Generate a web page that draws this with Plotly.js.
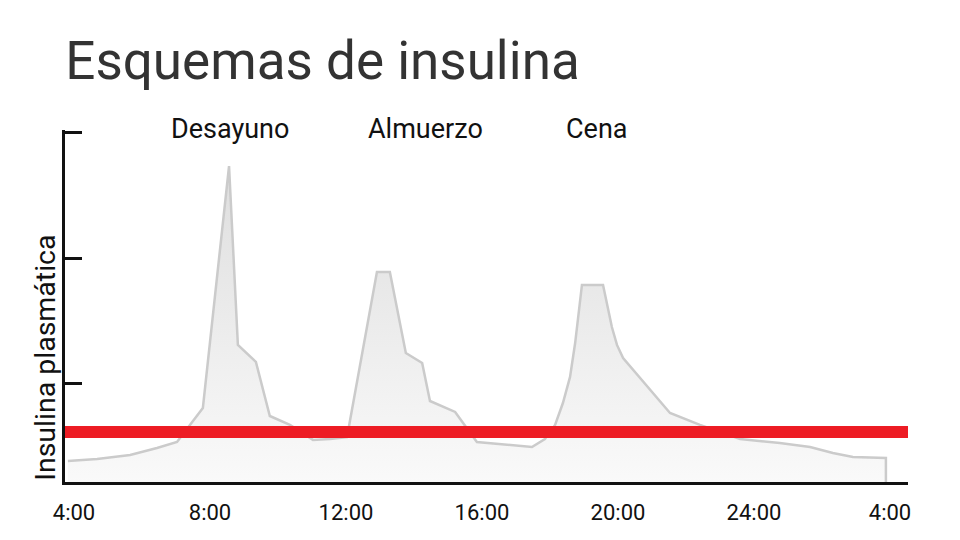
<!DOCTYPE html>
<html><head><meta charset="utf-8">
<script src="https://cdn.plot.ly/plotly-3.0.1.min.js"></script>
<style>html,body{margin:0;padding:0;background:#fff}</style>
</head><body><div id="chart" style="width:960px;height:540px"></div>
<script>
// Time of day in hours (4 = 4:00, 28 = 4:00 next day)
const hours = [3.82, 4.68, 5.65, 6.44, 7.03, 7.79, 8.56, 8.82, 9.35, 9.76, 10.35, 11.03, 11.53, 12.03,
  12.91, 13.29, 13.76, 14.24, 14.47, 15.21, 15.85, 17.47, 17.85, 18.15, 18.38, 18.59, 18.74, 18.82,
  18.94, 19.56, 19.68, 19.82, 19.97, 20.15, 21.53, 22.41, 23.59, 24.76, 25.65, 26.32, 26.91, 27.88, 27.88];
// Plasma insulin (relative units)
const insulin = [0.389, 0.405, 0.437, 0.492, 0.540, 0.810, 2.730, 1.310, 1.175, 0.746, 0.675, 0.556, 0.563, 0.579,
  1.889, 1.889, 1.246, 1.167, 0.865, 0.778, 0.540, 0.500, 0.563, 0.675, 0.849, 1.056, 1.325, 1.532,
  1.786, 1.786, 1.643, 1.452, 1.310, 1.206, 0.770, 0.675, 0.563, 0.532, 0.500, 0.452, 0.421, 0.413, 0.222];
const basalLevel = 0.619;
const xRange = [3.735, 28.53];
const yRange = [0.222, 3.016];
const tickHours = [4, 8, 12, 16, 20, 24, 28];
const tickLabels = ['4:00', '8:00', '12:00', '16:00', '20:00', '24:00', '4:00'];
const yTicks = [1, 2, 3];
const meals = ['Desayuno', 'Almuerzo', 'Cena'];
const mealHours = [8.59, 14.35, 19.38];

const traces = [
  {
    x: hours, y: insulin, type: 'scatter', mode: 'lines',
    line: {color: '#cbcbcb', width: 2.5},
    fill: 'tozeroy',
    fillgradient: {type: 'vertical', colorscale: [[0, '#fcfcfc'], [1, '#dedede']]},
    hoverinfo: 'skip', showlegend: false
  },
  {
    x: xRange, y: [basalLevel, basalLevel], type: 'scatter', mode: 'lines',
    line: {color: '#ed1c24', width: 12},
    hoverinfo: 'skip', showlegend: false
  }
];

const annotations = meals.map((m, i) => ({
  text: m, x: mealHours[i], xref: 'x', y: 1.003, yref: 'paper',
  xanchor: 'center', yanchor: 'middle', showarrow: false,
  font: {family: 'Roboto, sans-serif', size: 27, color: '#111'}
}));
annotations.push({
  text: 'Insulina plasmática', xref: 'paper', x: -0.024, yref: 'paper', y: 0.352,
  textangle: -90, xanchor: 'center', yanchor: 'middle', showarrow: false,
  font: {family: 'Roboto, sans-serif', size: 28.5, color: '#111'}
});

const layout = {
  width: 960, height: 540,
  margin: {l: 65, r: 52, t: 130, b: 58},
  paper_bgcolor: '#fff', plot_bgcolor: '#fff',
  title: {
    text: 'Esquemas de insulina', xref: 'container', x: 0.068, xanchor: 'left',
    yref: 'container', y: 0.922, yanchor: 'top',
    font: {family: 'Roboto, sans-serif', size: 53, color: '#333'}
  },
  xaxis: {
    range: xRange, showgrid: false, zeroline: false,
    showline: true, linecolor: '#111', linewidth: 3,
    ticks: '', tickvals: tickHours, ticktext: tickLabels,
    tickfont: {family: 'Roboto, sans-serif', size: 22, color: '#111'},
    ticklabelstandoff: 9
  },
  yaxis: {
    range: yRange, showgrid: false, zeroline: false,
    showline: true, linecolor: '#111', linewidth: 3,
    ticks: 'inside', ticklen: 17, tickwidth: 3, tickcolor: '#111',
    tickvals: yTicks, showticklabels: false
  },
  annotations: annotations
};

Plotly.newPlot('chart', traces, layout, {displayModeBar: false, staticPlot: true});
</script>
</body></html>
